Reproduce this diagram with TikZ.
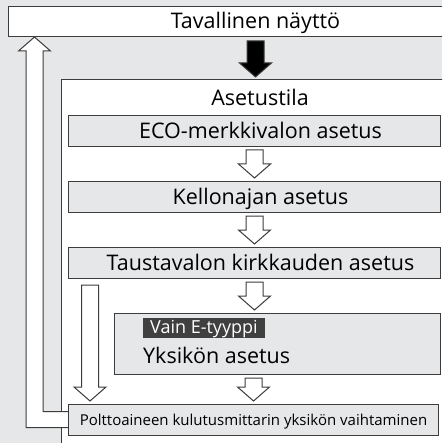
\documentclass[tikz,border=0pt]{standalone}
\usepackage{fontspec}
\setmainfont{Open Sans}
\usetikzlibrary{positioning,calc}
\definecolor{bggray}{HTML}{E6E7E8}
\definecolor{linegray}{HTML}{3C3C3C}
\definecolor{taggray}{HTML}{404040}
\newcommand{\bigfont}{\fontsize{21.5}{24}\selectfont}
\tikzset{base/.style={draw=linegray,line width=1pt}}
\tikzset{stepbox/.style={base,fill=bggray,minimum width=372pt,minimum height=31pt,inner sep=0pt}}
\tikzset{steptext/.style={font=\bigfont,inner sep=0pt,xshift=6pt,text height=15pt,text depth=0pt}}
\tikzset{block arrow/.style={base,to path={let \p1=(\tikztostart),\p2=(\tikztotarget),\n1={ifthenelse(\y2>\y1,1,-1)} in
  (\x1-8.5pt,\y1) -- (\x1-8.5pt,\y2-\n1*14pt) -- (\x1-16pt,\y2-\n1*14pt) -- (\x2,\y2)
  -- (\x1+16pt,\y2-\n1*14pt) -- (\x1+8.5pt,\y2-\n1*14pt) -- (\x1+8.5pt,\y1) -- cycle}}}

\begin{document}
\begin{tikzpicture}[x=1pt,y=-1pt,node distance=34pt]
\clip (0,0) rectangle (442,443);
\fill[bggray] (0,0) rectangle (442,443);
\node[base,fill=white,minimum width=494pt,minimum height=30pt,inner sep=0pt,anchor=north west,
  font=\bigfont,text height=14pt,text depth=0pt](normal) at (8,6){Tavallinen näyttö};
\node[base,fill=white,minimum width=420pt,minimum height=400pt,anchor=north west](panel) at (61,79){};
\node[font=\bigfont,anchor=base](mode) at (260,106){Asetustila};
% asetusvaiheet
\node[stepbox,anchor=north west,label={[steptext]center:ECO-merkkivalon asetus}](eco) at (68,115){};
\node[stepbox,below=of eco,label={[steptext]center:Kellonajan asetus}](clock){};
\node[stepbox,below=of clock,label={[steptext]center:Taustavalon kirkkauden asetus}](backlight){};
\node[stepbox,below=of backlight,minimum width=326pt,minimum height=61pt,xshift=23pt](unit){};
\node[fill=taggray,text=white,font=\fontsize{18}{21}\selectfont,inner xsep=7pt,inner ysep=0pt,
  minimum height=20pt,text height=14.5pt,text depth=4.5pt,anchor=north west](etype) at ([shift={(29pt,-5pt)}]unit.north west){Vain E-tyyppi};
\node[font=\bigfont,inner sep=0pt,anchor=base west](unitname) at ([yshift=-25pt]etype.south west){Yksikön asetus};
% paluunuoli
\coordinate(back) at (34.5,37);
\draw[base,fill=white] let \p1=(68,419.5),\p2=(back) in (\x1,\y1-8pt) -- (\x2-8.5pt,\y1-8pt) -- (\x2-8.5pt,\y2-14pt)
  -- (\x2-16pt,\y2-14pt) -- (\p2) -- (\x2+16pt,\y2-14pt) -- (\x2+8.5pt,\y2-14pt) -- (\x2+8.5pt,\y1+8pt) -- (\x1,\y1+8pt);
\node[stepbox,minimum width=370pt,anchor=north west,font=\fontsize{15}{18}\selectfont,text height=11pt,text depth=0pt](fuel) at (68,404){Polttoaineen kulutusmittarin yksikön vaihtaminen};
% nuolet
\draw[block arrow,fill=black] ([yshift=-4pt]normal.south) to ([yshift=2pt]normal.south |- panel.north);
\draw[block arrow,fill=white] ([yshift=-3pt]eco.south) to ([yshift=3pt]clock.north);
\draw[block arrow,fill=white] ([yshift=-3pt]clock.south) to ([yshift=3pt]backlight.north);
\draw[block arrow,fill=white] ([yshift=-3pt]backlight.south) to ([yshift=3pt]backlight.south |- unit.north);
\draw[block arrow,fill=white] ([yshift=-3pt]unit.south -| fuel.north) to ([yshift=3pt]fuel.north);
\draw[block arrow,fill=white] ([xshift=22pt,yshift=-6pt]backlight.south west) to ([xshift=22pt,yshift=3pt]fuel.north west);
\end{tikzpicture}
\end{document}
